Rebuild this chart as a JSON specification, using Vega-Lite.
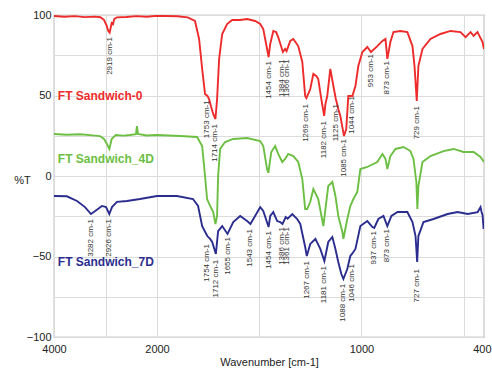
{
  "$schema": "https://vega.github.io/schema/vega-lite/v6.json",
  "width": 430,
  "height": 322,
  "autosize": {"type": "none"},
  "padding": {"left": 54, "top": 15, "right": 8, "bottom": 32},
  "background": "white",
  "config": {
    "font": "Liberation Sans",
    "view": {"stroke": "#9a9a9a", "strokeWidth": 1.2},
    "axis": {"labelFont": "Liberation Sans", "titleFont": "Liberation Sans", "labelColor": "#222", "titleColor": "#222", "gridColor": "#dcdcdc", "gridWidth": 1, "domain": false, "ticks": false}
  },
  "datasets": {
    "spectra": [
      {"series": "FT Sandwich-0", "wn": 4000, "T": 99.4},
      {"series": "FT Sandwich-0", "wn": 3800, "T": 98.9},
      {"series": "FT Sandwich-0", "wn": 3600, "T": 99.3},
      {"series": "FT Sandwich-0", "wn": 3400, "T": 98.7},
      {"series": "FT Sandwich-0", "wn": 3200, "T": 99.0},
      {"series": "FT Sandwich-0", "wn": 3100, "T": 98.6},
      {"series": "FT Sandwich-0", "wn": 3030, "T": 97.0},
      {"series": "FT Sandwich-0", "wn": 2980, "T": 93.5},
      {"series": "FT Sandwich-0", "wn": 2945, "T": 90.0},
      {"series": "FT Sandwich-0", "wn": 2919, "T": 89.0},
      {"series": "FT Sandwich-0", "wn": 2900, "T": 92.0},
      {"series": "FT Sandwich-0", "wn": 2880, "T": 95.0},
      {"series": "FT Sandwich-0", "wn": 2855, "T": 94.3},
      {"series": "FT Sandwich-0", "wn": 2830, "T": 97.5},
      {"series": "FT Sandwich-0", "wn": 2780, "T": 98.5},
      {"series": "FT Sandwich-0", "wn": 2600, "T": 98.8},
      {"series": "FT Sandwich-0", "wn": 2400, "T": 99.3},
      {"series": "FT Sandwich-0", "wn": 2200, "T": 98.9},
      {"series": "FT Sandwich-0", "wn": 2000, "T": 99.5},
      {"series": "FT Sandwich-0", "wn": 1900, "T": 99.2},
      {"series": "FT Sandwich-0", "wn": 1850, "T": 98.5},
      {"series": "FT Sandwich-0", "wn": 1814, "T": 96.3},
      {"series": "FT Sandwich-0", "wn": 1794, "T": 85.1},
      {"series": "FT Sandwich-0", "wn": 1779, "T": 66.5},
      {"series": "FT Sandwich-0", "wn": 1765, "T": 50.9},
      {"series": "FT Sandwich-0", "wn": 1753, "T": 49.7},
      {"series": "FT Sandwich-0", "wn": 1745, "T": 47.8},
      {"series": "FT Sandwich-0", "wn": 1735, "T": 42.9},
      {"series": "FT Sandwich-0", "wn": 1725, "T": 38.5},
      {"series": "FT Sandwich-0", "wn": 1714, "T": 35.4},
      {"series": "FT Sandwich-0", "wn": 1706, "T": 47.8},
      {"series": "FT Sandwich-0", "wn": 1696, "T": 72.7},
      {"series": "FT Sandwich-0", "wn": 1681, "T": 88.2},
      {"series": "FT Sandwich-0", "wn": 1657, "T": 94.4},
      {"series": "FT Sandwich-0", "wn": 1632, "T": 96.9},
      {"series": "FT Sandwich-0", "wn": 1593, "T": 96.9},
      {"series": "FT Sandwich-0", "wn": 1559, "T": 97.5},
      {"series": "FT Sandwich-0", "wn": 1520, "T": 96.3},
      {"series": "FT Sandwich-0", "wn": 1495, "T": 94.4},
      {"series": "FT Sandwich-0", "wn": 1480, "T": 91.3},
      {"series": "FT Sandwich-0", "wn": 1466, "T": 82.0},
      {"series": "FT Sandwich-0", "wn": 1454, "T": 73.9},
      {"series": "FT Sandwich-0", "wn": 1446, "T": 82.0},
      {"series": "FT Sandwich-0", "wn": 1431, "T": 90.1},
      {"series": "FT Sandwich-0", "wn": 1417, "T": 89.4},
      {"series": "FT Sandwich-0", "wn": 1407, "T": 86.3},
      {"series": "FT Sandwich-0", "wn": 1384, "T": 77.0},
      {"series": "FT Sandwich-0", "wn": 1373, "T": 78.9},
      {"series": "FT Sandwich-0", "wn": 1366, "T": 77.6},
      {"series": "FT Sandwich-0", "wn": 1348, "T": 83.9},
      {"series": "FT Sandwich-0", "wn": 1333, "T": 85.1},
      {"series": "FT Sandwich-0", "wn": 1309, "T": 80.7},
      {"series": "FT Sandwich-0", "wn": 1289, "T": 70.8},
      {"series": "FT Sandwich-0", "wn": 1275, "T": 49.7},
      {"series": "FT Sandwich-0", "wn": 1269, "T": 48.4},
      {"series": "FT Sandwich-0", "wn": 1250, "T": 54.0},
      {"series": "FT Sandwich-0", "wn": 1235, "T": 63.4},
      {"series": "FT Sandwich-0", "wn": 1221, "T": 62.1},
      {"series": "FT Sandwich-0", "wn": 1211, "T": 60.2},
      {"series": "FT Sandwich-0", "wn": 1196, "T": 47.8},
      {"series": "FT Sandwich-0", "wn": 1182, "T": 37.3},
      {"series": "FT Sandwich-0", "wn": 1176, "T": 44.7},
      {"series": "FT Sandwich-0", "wn": 1167, "T": 49.7},
      {"series": "FT Sandwich-0", "wn": 1152, "T": 66.5},
      {"series": "FT Sandwich-0", "wn": 1137, "T": 55.9},
      {"series": "FT Sandwich-0", "wn": 1125, "T": 47.8},
      {"series": "FT Sandwich-0", "wn": 1113, "T": 41.6},
      {"series": "FT Sandwich-0", "wn": 1103, "T": 37.3},
      {"series": "FT Sandwich-0", "wn": 1085, "T": 24.8},
      {"series": "FT Sandwich-0", "wn": 1074, "T": 29.2},
      {"series": "FT Sandwich-0", "wn": 1064, "T": 49.7},
      {"series": "FT Sandwich-0", "wn": 1044, "T": 49.7},
      {"series": "FT Sandwich-0", "wn": 1029, "T": 55.9},
      {"series": "FT Sandwich-0", "wn": 1015, "T": 68.3},
      {"series": "FT Sandwich-0", "wn": 995, "T": 77.0},
      {"series": "FT Sandwich-0", "wn": 971, "T": 80.1},
      {"series": "FT Sandwich-0", "wn": 953, "T": 77.0},
      {"series": "FT Sandwich-0", "wn": 922, "T": 80.7},
      {"series": "FT Sandwich-0", "wn": 897, "T": 83.9},
      {"series": "FT Sandwich-0", "wn": 882, "T": 85.1},
      {"series": "FT Sandwich-0", "wn": 873, "T": 72.7},
      {"series": "FT Sandwich-0", "wn": 858, "T": 83.2},
      {"series": "FT Sandwich-0", "wn": 843, "T": 89.4},
      {"series": "FT Sandwich-0", "wn": 809, "T": 90.1},
      {"series": "FT Sandwich-0", "wn": 775, "T": 89.4},
      {"series": "FT Sandwich-0", "wn": 750, "T": 80.7},
      {"series": "FT Sandwich-0", "wn": 740, "T": 68.3},
      {"series": "FT Sandwich-0", "wn": 729, "T": 46.6},
      {"series": "FT Sandwich-0", "wn": 721, "T": 68.3},
      {"series": "FT Sandwich-0", "wn": 701, "T": 78.9},
      {"series": "FT Sandwich-0", "wn": 662, "T": 85.1},
      {"series": "FT Sandwich-0", "wn": 613, "T": 88.2},
      {"series": "FT Sandwich-0", "wn": 564, "T": 90.1},
      {"series": "FT Sandwich-0", "wn": 515, "T": 89.4},
      {"series": "FT Sandwich-0", "wn": 490, "T": 86.3},
      {"series": "FT Sandwich-0", "wn": 466, "T": 89.4},
      {"series": "FT Sandwich-0", "wn": 451, "T": 87.0},
      {"series": "FT Sandwich-0", "wn": 432, "T": 89.4},
      {"series": "FT Sandwich-0", "wn": 407, "T": 83.2},
      {"series": "FT Sandwich-0", "wn": 400, "T": 78.9},

      {"series": "FT Sandwich_4D", "wn": 4000, "T": 26.1},
      {"series": "FT Sandwich_4D", "wn": 3750, "T": 25.6},
      {"series": "FT Sandwich_4D", "wn": 3495, "T": 25.9},
      {"series": "FT Sandwich_4D", "wn": 3250, "T": 25.2},
      {"series": "FT Sandwich_4D", "wn": 3107, "T": 24.8},
      {"series": "FT Sandwich_4D", "wn": 3029, "T": 23.0},
      {"series": "FT Sandwich_4D", "wn": 2975, "T": 20.0},
      {"series": "FT Sandwich_4D", "wn": 2925, "T": 16.8},
      {"series": "FT Sandwich_4D", "wn": 2880, "T": 23.0},
      {"series": "FT Sandwich_4D", "wn": 2800, "T": 25.5},
      {"series": "FT Sandwich_4D", "wn": 2650, "T": 25.1},
      {"series": "FT Sandwich_4D", "wn": 2525, "T": 25.5},
      {"series": "FT Sandwich_4D", "wn": 2408, "T": 26.0},
      {"series": "FT Sandwich_4D", "wn": 2390, "T": 31.0},
      {"series": "FT Sandwich_4D", "wn": 2370, "T": 26.2},
      {"series": "FT Sandwich_4D", "wn": 2200, "T": 25.2},
      {"series": "FT Sandwich_4D", "wn": 2000, "T": 25.5},
      {"series": "FT Sandwich_4D", "wn": 1887, "T": 24.8},
      {"series": "FT Sandwich_4D", "wn": 1804, "T": 24.2},
      {"series": "FT Sandwich_4D", "wn": 1779, "T": 18.6},
      {"series": "FT Sandwich_4D", "wn": 1765, "T": 0.0},
      {"series": "FT Sandwich_4D", "wn": 1755, "T": -14.3},
      {"series": "FT Sandwich_4D", "wn": 1740, "T": -18.6},
      {"series": "FT Sandwich_4D", "wn": 1725, "T": -22.4},
      {"series": "FT Sandwich_4D", "wn": 1714, "T": -29.8},
      {"series": "FT Sandwich_4D", "wn": 1706, "T": -24.8},
      {"series": "FT Sandwich_4D", "wn": 1701, "T": 0.0},
      {"series": "FT Sandwich_4D", "wn": 1691, "T": 16.8},
      {"series": "FT Sandwich_4D", "wn": 1667, "T": 21.1},
      {"series": "FT Sandwich_4D", "wn": 1627, "T": 23.0},
      {"series": "FT Sandwich_4D", "wn": 1559, "T": 23.6},
      {"series": "FT Sandwich_4D", "wn": 1495, "T": 21.7},
      {"series": "FT Sandwich_4D", "wn": 1480, "T": 18.6},
      {"series": "FT Sandwich_4D", "wn": 1461, "T": 4.0},
      {"series": "FT Sandwich_4D", "wn": 1455, "T": 2.0},
      {"series": "FT Sandwich_4D", "wn": 1441, "T": 14.9},
      {"series": "FT Sandwich_4D", "wn": 1422, "T": 18.6},
      {"series": "FT Sandwich_4D", "wn": 1407, "T": 13.7},
      {"series": "FT Sandwich_4D", "wn": 1387, "T": 8.7},
      {"series": "FT Sandwich_4D", "wn": 1373, "T": 10.6},
      {"series": "FT Sandwich_4D", "wn": 1358, "T": 13.7},
      {"series": "FT Sandwich_4D", "wn": 1333, "T": 12.4},
      {"series": "FT Sandwich_4D", "wn": 1309, "T": 8.7},
      {"series": "FT Sandwich_4D", "wn": 1289, "T": -1.9},
      {"series": "FT Sandwich_4D", "wn": 1275, "T": -20.5},
      {"series": "FT Sandwich_4D", "wn": 1265, "T": -20.5},
      {"series": "FT Sandwich_4D", "wn": 1250, "T": -16.0},
      {"series": "FT Sandwich_4D", "wn": 1235, "T": -8.1},
      {"series": "FT Sandwich_4D", "wn": 1211, "T": -14.3},
      {"series": "FT Sandwich_4D", "wn": 1186, "T": -31.1},
      {"series": "FT Sandwich_4D", "wn": 1162, "T": -6.2},
      {"series": "FT Sandwich_4D", "wn": 1142, "T": -3.7},
      {"series": "FT Sandwich_4D", "wn": 1127, "T": -12.4},
      {"series": "FT Sandwich_4D", "wn": 1113, "T": -24.8},
      {"series": "FT Sandwich_4D", "wn": 1093, "T": -34.8},
      {"series": "FT Sandwich_4D", "wn": 1088, "T": -39.1},
      {"series": "FT Sandwich_4D", "wn": 1069, "T": -26.7},
      {"series": "FT Sandwich_4D", "wn": 1054, "T": -18.6},
      {"series": "FT Sandwich_4D", "wn": 1039, "T": -14.3},
      {"series": "FT Sandwich_4D", "wn": 1020, "T": -9.9},
      {"series": "FT Sandwich_4D", "wn": 1005, "T": 4.3},
      {"series": "FT Sandwich_4D", "wn": 971, "T": 5.6},
      {"series": "FT Sandwich_4D", "wn": 922, "T": 8.7},
      {"series": "FT Sandwich_4D", "wn": 897, "T": 13.7},
      {"series": "FT Sandwich_4D", "wn": 882, "T": 10.6},
      {"series": "FT Sandwich_4D", "wn": 873, "T": 4.3},
      {"series": "FT Sandwich_4D", "wn": 858, "T": 12.4},
      {"series": "FT Sandwich_4D", "wn": 833, "T": 16.8},
      {"series": "FT Sandwich_4D", "wn": 794, "T": 18.0},
      {"series": "FT Sandwich_4D", "wn": 760, "T": 15.5},
      {"series": "FT Sandwich_4D", "wn": 745, "T": 10.6},
      {"series": "FT Sandwich_4D", "wn": 731, "T": -3.7},
      {"series": "FT Sandwich_4D", "wn": 726, "T": -20.5},
      {"series": "FT Sandwich_4D", "wn": 721, "T": -6.2},
      {"series": "FT Sandwich_4D", "wn": 701, "T": 8.7},
      {"series": "FT Sandwich_4D", "wn": 662, "T": 12.4},
      {"series": "FT Sandwich_4D", "wn": 598, "T": 15.5},
      {"series": "FT Sandwich_4D", "wn": 549, "T": 16.8},
      {"series": "FT Sandwich_4D", "wn": 500, "T": 14.9},
      {"series": "FT Sandwich_4D", "wn": 451, "T": 14.9},
      {"series": "FT Sandwich_4D", "wn": 417, "T": 11.8},
      {"series": "FT Sandwich_4D", "wn": 400, "T": 8.7},

      {"series": "FT Sandwich_7D", "wn": 4000, "T": -12.4},
      {"series": "FT Sandwich_7D", "wn": 3750, "T": -12.6},
      {"series": "FT Sandwich_7D", "wn": 3553, "T": -15.5},
      {"series": "FT Sandwich_7D", "wn": 3398, "T": -19.3},
      {"series": "FT Sandwich_7D", "wn": 3282, "T": -23.6},
      {"series": "FT Sandwich_7D", "wn": 3200, "T": -21.7},
      {"series": "FT Sandwich_7D", "wn": 3068, "T": -18.6},
      {"series": "FT Sandwich_7D", "wn": 2990, "T": -19.3},
      {"series": "FT Sandwich_7D", "wn": 2926, "T": -23.6},
      {"series": "FT Sandwich_7D", "wn": 2874, "T": -19.3},
      {"series": "FT Sandwich_7D", "wn": 2777, "T": -16.1},
      {"series": "FT Sandwich_7D", "wn": 2583, "T": -15.5},
      {"series": "FT Sandwich_7D", "wn": 2330, "T": -14.3},
      {"series": "FT Sandwich_7D", "wn": 2000, "T": -12.4},
      {"series": "FT Sandwich_7D", "wn": 1902, "T": -12.4},
      {"series": "FT Sandwich_7D", "wn": 1824, "T": -14.3},
      {"series": "FT Sandwich_7D", "wn": 1799, "T": -18.6},
      {"series": "FT Sandwich_7D", "wn": 1779, "T": -31.1},
      {"series": "FT Sandwich_7D", "wn": 1754, "T": -37.3},
      {"series": "FT Sandwich_7D", "wn": 1740, "T": -39.1},
      {"series": "FT Sandwich_7D", "wn": 1730, "T": -41.0},
      {"series": "FT Sandwich_7D", "wn": 1712, "T": -48.4},
      {"series": "FT Sandwich_7D", "wn": 1701, "T": -34.2},
      {"series": "FT Sandwich_7D", "wn": 1681, "T": -31.1},
      {"series": "FT Sandwich_7D", "wn": 1655, "T": -36.0},
      {"series": "FT Sandwich_7D", "wn": 1627, "T": -28.6},
      {"series": "FT Sandwich_7D", "wn": 1593, "T": -24.8},
      {"series": "FT Sandwich_7D", "wn": 1559, "T": -28.0},
      {"series": "FT Sandwich_7D", "wn": 1543, "T": -29.8},
      {"series": "FT Sandwich_7D", "wn": 1520, "T": -24.8},
      {"series": "FT Sandwich_7D", "wn": 1495, "T": -19.3},
      {"series": "FT Sandwich_7D", "wn": 1480, "T": -21.7},
      {"series": "FT Sandwich_7D", "wn": 1454, "T": -31.7},
      {"series": "FT Sandwich_7D", "wn": 1446, "T": -24.8},
      {"series": "FT Sandwich_7D", "wn": 1431, "T": -22.4},
      {"series": "FT Sandwich_7D", "wn": 1412, "T": -28.0},
      {"series": "FT Sandwich_7D", "wn": 1397, "T": -28.6},
      {"series": "FT Sandwich_7D", "wn": 1386, "T": -29.8},
      {"series": "FT Sandwich_7D", "wn": 1370, "T": -25.5},
      {"series": "FT Sandwich_7D", "wn": 1361, "T": -26.5},
      {"series": "FT Sandwich_7D", "wn": 1338, "T": -23.6},
      {"series": "FT Sandwich_7D", "wn": 1314, "T": -26.7},
      {"series": "FT Sandwich_7D", "wn": 1299, "T": -29.8},
      {"series": "FT Sandwich_7D", "wn": 1275, "T": -44.1},
      {"series": "FT Sandwich_7D", "wn": 1267, "T": -49.7},
      {"series": "FT Sandwich_7D", "wn": 1250, "T": -42.2},
      {"series": "FT Sandwich_7D", "wn": 1225, "T": -39.1},
      {"series": "FT Sandwich_7D", "wn": 1201, "T": -45.3},
      {"series": "FT Sandwich_7D", "wn": 1181, "T": -52.8},
      {"series": "FT Sandwich_7D", "wn": 1162, "T": -41.0},
      {"series": "FT Sandwich_7D", "wn": 1142, "T": -37.9},
      {"series": "FT Sandwich_7D", "wn": 1127, "T": -45.3},
      {"series": "FT Sandwich_7D", "wn": 1113, "T": -53.4},
      {"series": "FT Sandwich_7D", "wn": 1098, "T": -60.9},
      {"series": "FT Sandwich_7D", "wn": 1088, "T": -64.0},
      {"series": "FT Sandwich_7D", "wn": 1069, "T": -57.8},
      {"series": "FT Sandwich_7D", "wn": 1054, "T": -49.7},
      {"series": "FT Sandwich_7D", "wn": 1046, "T": -48.4},
      {"series": "FT Sandwich_7D", "wn": 1029, "T": -45.3},
      {"series": "FT Sandwich_7D", "wn": 1005, "T": -31.1},
      {"series": "FT Sandwich_7D", "wn": 971, "T": -28.0},
      {"series": "FT Sandwich_7D", "wn": 946, "T": -31.7},
      {"series": "FT Sandwich_7D", "wn": 937, "T": -32.3},
      {"series": "FT Sandwich_7D", "wn": 917, "T": -26.7},
      {"series": "FT Sandwich_7D", "wn": 892, "T": -24.8},
      {"series": "FT Sandwich_7D", "wn": 873, "T": -31.1},
      {"series": "FT Sandwich_7D", "wn": 853, "T": -24.8},
      {"series": "FT Sandwich_7D", "wn": 823, "T": -22.4},
      {"series": "FT Sandwich_7D", "wn": 775, "T": -22.4},
      {"series": "FT Sandwich_7D", "wn": 750, "T": -28.6},
      {"series": "FT Sandwich_7D", "wn": 735, "T": -37.3},
      {"series": "FT Sandwich_7D", "wn": 727, "T": -53.4},
      {"series": "FT Sandwich_7D", "wn": 721, "T": -37.3},
      {"series": "FT Sandwich_7D", "wn": 696, "T": -28.6},
      {"series": "FT Sandwich_7D", "wn": 647, "T": -26.7},
      {"series": "FT Sandwich_7D", "wn": 578, "T": -23.6},
      {"series": "FT Sandwich_7D", "wn": 529, "T": -22.4},
      {"series": "FT Sandwich_7D", "wn": 480, "T": -23.6},
      {"series": "FT Sandwich_7D", "wn": 431, "T": -22.4},
      {"series": "FT Sandwich_7D", "wn": 417, "T": -19.3},
      {"series": "FT Sandwich_7D", "wn": 412, "T": -22.4},
      {"series": "FT Sandwich_7D", "wn": 407, "T": -24.2},
      {"series": "FT Sandwich_7D", "wn": 402, "T": -32.9},
      {"series": "FT Sandwich_7D", "wn": 400, "T": -28.0}
    ],
    "peaks": [
      {"wn": 2919, "T": 86.3, "label": "2919 cm-1"},
      {"wn": 1753, "T": 47.0, "label": "1753 cm-1"},
      {"wn": 1714, "T": 32.3, "label": "1714 cm-1"},
      {"wn": 1454, "T": 71.4, "label": "1454 cm-1"},
      {"wn": 1386, "T": 72.5, "label": "1384 cm-1"},
      {"wn": 1366, "T": 72.5, "label": "1366 cm-1"},
      {"wn": 1269, "T": 44.7, "label": "1269 cm-1"},
      {"wn": 1182, "T": 34.2, "label": "1182 cm-1"},
      {"wn": 1125, "T": 44.7, "label": "1125 cm-1"},
      {"wn": 1085, "T": 23.0, "label": "1085 cm-1"},
      {"wn": 1044, "T": 49.7, "label": "1044 cm-1"},
      {"wn": 953, "T": 75.8, "label": "953 cm-1"},
      {"wn": 873, "T": 71.4, "label": "873 cm-1"},
      {"wn": 729, "T": 43.5, "label": "729 cm-1"},
      {"wn": 3282, "T": -26.7, "label": "3282 cm-1"},
      {"wn": 2926, "T": -26.7, "label": "2926 cm-1"},
      {"wn": 1754, "T": -42.2, "label": "1754 cm-1"},
      {"wn": 1712, "T": -52.0, "label": "1712 cm-1"},
      {"wn": 1655, "T": -37.9, "label": "1655 cm-1"},
      {"wn": 1543, "T": -32.9, "label": "1543 cm-1"},
      {"wn": 1454, "T": -34.2, "label": "1454 cm-1"},
      {"wn": 1386, "T": -31.7, "label": "1386 cm-1"},
      {"wn": 1366, "T": -31.7, "label": "1361 cm-1"},
      {"wn": 1267, "T": -52.8, "label": "1267 cm-1"},
      {"wn": 1181, "T": -55.9, "label": "1181 cm-1"},
      {"wn": 1088, "T": -67.0, "label": "1088 cm-1"},
      {"wn": 1046, "T": -54.7, "label": "1046 cm-1"},
      {"wn": 937, "T": -34.2, "label": "937 cm-1"},
      {"wn": 873, "T": -32.9, "label": "873 cm-1"},
      {"wn": 727, "T": -57.8, "label": "727 cm-1"}
    ],
    "names": [
      {"series": "FT Sandwich-0", "wn": 3925, "T": 50},
      {"series": "FT Sandwich_4D", "wn": 3925, "T": 10.6},
      {"series": "FT Sandwich_7D", "wn": 3925, "T": -53.4}
    ]
  },
  "layer": [
    {
      "data": {"name": "spectra"},
      "mark": {"type": "line", "strokeWidth": 1.9, "clip": true},
      "encoding": {
        "x": {"field": "wn", "type": "quantitative",
          "scale": {"domain": [4000, 2000, 400], "range": [0, 103, 430], "nice": false, "zero": false},
          "axis": {"values": [4000, 3000, 2000, 1500, 1000, 500, 400],
            "format": "d",
            "labelExpr": "indexof([4000,2000,1000,400], datum.value) >= 0 ? datum.label : ''",
            "labelAlign": {"expr": "datum.value == 400 ? 'right' : 'center'"},
            "labelOffset": {"expr": "datum.value == 400 ? 7 : 0"},
            "labelFontSize": 11, "labelPadding": 6, "labelFlush": false,
            "title": "Wavenumber [cm-1]", "titleFontSize": 11, "titleFontWeight": "normal",
            "titleY": 25, "titleBaseline": "middle", "grid": true}},
        "y": {"field": "T", "type": "quantitative",
          "scale": {"domain": [-100, 100], "nice": false},
          "axis": {"values": [-100, -75, -50, -25, 0, 25, 50, 75, 100],
            "labelExpr": "datum.value % 50 === 0 ? datum.label : ''",
            "labelFontSize": 11, "labelPadding": 3, "labelFlush": false,
            "title": "%T", "titleAngle": 0, "titleFontSize": 11, "titleFontWeight": "normal",
            "titleX": -32, "titleY": 165, "titleAlign": "center", "titleBaseline": "middle", "grid": true}},
        "color": {"field": "series", "type": "nominal",
          "scale": {"domain": ["FT Sandwich-0", "FT Sandwich_4D", "FT Sandwich_7D"], "range": ["#ee2b2b", "#6cbf42", "#2b2d8e"]},
          "legend": null}
      }
    },
    {
      "data": {"name": "peaks"},
      "mark": {"type": "text", "angle": 270, "align": "right", "baseline": "middle", "fontSize": 8, "color": "#333", "font": "Liberation Sans"},
      "encoding": {
        "x": {"field": "wn", "type": "quantitative"},
        "y": {"field": "T", "type": "quantitative"},
        "text": {"field": "label"}
      }
    },
    {
      "data": {"name": "names"},
      "mark": {"type": "text", "align": "left", "baseline": "middle", "fontSize": 12, "fontWeight": "bold", "font": "Liberation Sans"},
      "encoding": {
        "x": {"field": "wn", "type": "quantitative"},
        "y": {"field": "T", "type": "quantitative"},
        "text": {"field": "series"},
        "color": {"field": "series", "type": "nominal", "legend": null}
      }
    }
  ]
}
